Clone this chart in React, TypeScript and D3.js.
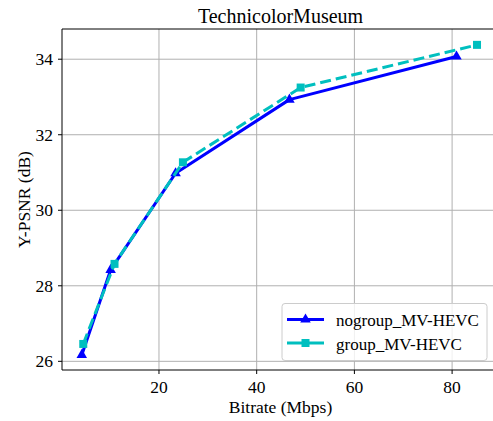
import React from 'react';
import * as d3 from 'd3';

const width = 493;
const height = 421;
const margin = { top: 29, right: -6, bottom: 51, left: 62 };

const nogroupBitrate = [4.2, 10.1, 23.4, 46.7, 80.9];
const nogroupPsnr = [26.17, 28.42, 30.98, 32.93, 34.07];
const groupBitrate = [4.5, 10.9, 24.9, 49.0, 85.1];
const groupPsnr = [26.46, 28.58, 31.27, 33.25, 34.38];

const xTicks = [20, 40, 60, 80];
const yTicks = [26, 28, 30, 32, 34];
const seriesNames = ['nogroup_MV-HEVC', 'group_MV-HEVC'];

const blue = '#0000ff';
const cyan = '#00bfbf';
const serif = "'Liberation Serif', 'Times New Roman', serif";

const x = d3.scaleLinear().domain([0.15, 89.6]).range([margin.left, width - margin.right]);
const y = d3.scaleLinear().domain([25.77, 34.8]).range([height - margin.bottom, margin.top]);

const line = d3.line<[number, number]>().x((d) => x(d[0])).y((d) => y(d[1]));

const nogroup = nogroupBitrate.map((b, i) => [b, nogroupPsnr[i]] as [number, number]);
const group = groupBitrate.map((b, i) => [b, groupPsnr[i]] as [number, number]);

const tri = d3.symbol(d3.symbolTriangle, 48)();

export default function App() {
	const x0 = x.range()[0];
	const x1 = x.range()[1];
	const y0 = y.range()[0];
	const y1 = y.range()[1];
	const xc = (x0 + x1) / 2;
	return (
		<div style={{ position: 'absolute', left: 0, top: 0 }}>
			<svg width={width} height={height} style={{ display: 'block', background: '#fff', fontFamily: serif }}>
				{/* grid */}
				{xTicks.map((t) => (
					<line key={'gx' + t} x1={x(t)} x2={x(t)} y1={y0} y2={y1} stroke="#b0b0b0" strokeWidth={1} />
				))}
				{yTicks.map((t) => (
					<line key={'gy' + t} x1={x0} x2={x1} y1={y(t)} y2={y(t)} stroke="#b0b0b0" strokeWidth={1} />
				))}

				{/* series */}
				<path d={line(nogroup) ?? ''} fill="none" stroke={blue} strokeWidth={3} strokeLinejoin="round" />
				{nogroup.map((d, i) => (
					<path key={'t' + i} d={tri ?? ''} transform={`translate(${x(d[0])},${y(d[1])})`} fill={blue} />
				))}
				<path d={line(group) ?? ''} fill="none" stroke={cyan} strokeWidth={3} strokeDasharray="11,5" />
				{group.map((d, i) => (
					<rect key={'s' + i} x={x(d[0]) - 4} y={y(d[1]) - 4} width={8} height={8} fill={cyan} />
				))}

				{/* spines (right one falls outside the picture) */}
				<line x1={x0} x2={x0} y1={y1} y2={y0} stroke="#000" strokeWidth={1} />
				<line x1={x0} x2={x1} y1={y0} y2={y0} stroke="#000" strokeWidth={1} />
				<line x1={x0} x2={x1} y1={y1} y2={y1} stroke="#000" strokeWidth={1} />

				{/* ticks */}
				{xTicks.map((t) => (
					<g key={'xt' + t}>
						<line x1={x(t)} x2={x(t)} y1={y0} y2={y0 + 4} stroke="#000" />
						<text x={x(t)} y={y0 + 22.5} textAnchor="middle" fontSize={17.5} fontFamily={serif}>{t}</text>
					</g>
				))}
				{yTicks.map((t) => (
					<g key={'yt' + t}>
						<line x1={x0 - 4} x2={x0} y1={y(t)} y2={y(t)} stroke="#000" />
						<text x={x0 - 9} y={y(t) + 6} textAnchor="end" fontSize={17.5} fontFamily={serif}>{t}</text>
					</g>
				))}

				{/* labels */}
				<text x={xc} y={22.5} textAnchor="middle" fontSize={20} fontFamily={serif}>TechnicolorMuseum</text>
				<text x={xc} y={413} textAnchor="middle" fontSize={17.5} fontFamily={serif}>Bitrate (Mbps)</text>
				<text transform={`translate(29.5,${(y0 + y1) / 2}) rotate(-90)`} textAnchor="middle" fontSize={17.5} fontFamily={serif}>Y-PSNR (dB)</text>

				{/* legend */}
				<g>
					<rect x={282} y={303.5} width={205} height={57} rx={3} fill="#fff" fillOpacity={0.8} stroke="#cccccc" />
					<line x1={287} x2={324} y1={319.5} y2={319.5} stroke={blue} strokeWidth={3} />
					<path d={tri ?? ''} transform="translate(305.5,319.5)" fill={blue} />
					<text x={336} y={326} fontSize={17} fontFamily={serif}>{seriesNames[0]}</text>
					<line x1={287} x2={324} y1={343} y2={343} stroke={cyan} strokeWidth={3} />
					<rect x={301.5} y={339} width={8} height={8} fill={cyan} />
					<text x={336} y={350} fontSize={17} fontFamily={serif}>{seriesNames[1]}</text>
				</g>
			</svg>
		</div>
	);
}
